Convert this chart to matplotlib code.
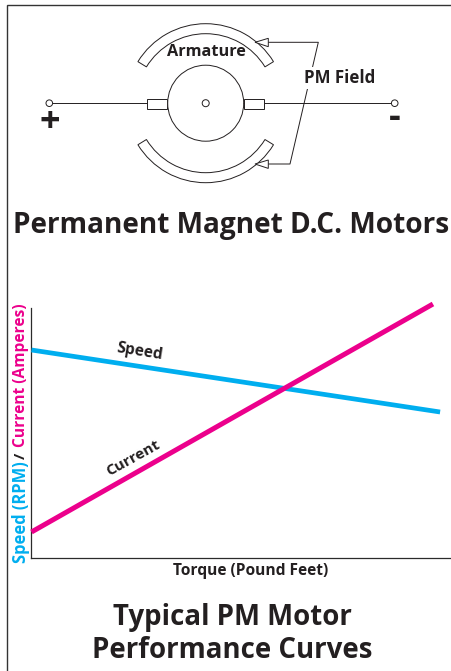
import matplotlib
matplotlib.use("Agg")
from matplotlib import pyplot as plt
from matplotlib.patches import Circle, Polygon, Rectangle, Wedge

# chart values (arbitrary units, no ticks in the original)
torque_speed = [0, 97.4]
speed = [83.2, 58.4]
torque_current = [0, 95.7]
current = [10.4, 101.6]

INK = "#231f20"
BLUE = "#00aeef"
PINK = "#ec008c"
LINE = "#2b2b2b"
W, H = 451, 671

plt.rcParams["font.family"] = ["Open Sans", "DejaVu Sans"]
plt.rcParams["font.weight"] = "bold"

fig = plt.figure(figsize=(W / 100, H / 100), dpi=100)

# plot area, in figure fractions
left, right, top, bottom = 31.5, 451, 308, 558
ax = fig.add_axes([left / W, 1 - bottom / H, (right - left) / W, (bottom - top) / H])
ax.patch.set_alpha(0)
ax.plot(torque_speed, speed, color=BLUE, lw=3.4, solid_capstyle="butt", clip_on=False, zorder=3)
ax.plot(torque_current, current, color=PINK, lw=3.6, solid_capstyle="butt", clip_on=False, zorder=4)
ax.set_xlim(0, 100)
ax.set_ylim(0, 100)
ax.set_xticks([])
ax.set_yticks([])
ax.spines["top"].set_visible(False)
ax.spines["right"].set_visible(False)
ax.spines["left"].set_color(LINE)
ax.spines["bottom"].set_color(LINE)
ax.spines["left"].set_linewidth(0.9)
ax.spines["bottom"].set_linewidth(0.9)

# overlay in image pixels for the motor sketch and all text
ov = fig.add_axes([0, 0, 1, 1], zorder=5)
ov.set_xlim(0, W)
ov.set_ylim(H, 0)
ov.axis("off")
ov.patch.set_alpha(0)

# page frame
ov.plot([451, 6.5, 6.5], [4.5, 4.5, 671], color="#333333", lw=1.0, solid_joinstyle="miter")

# motor
cx, cy = 205.7, 103.2
sk = dict(edgecolor=INK, facecolor="white", lw=0.7)
ov.plot([49.3, 394.7], [cy, cy], color=INK, lw=0.7, zorder=1)
ov.add_patch(Rectangle((147.3, 98.5), 20, 10.5, zorder=2, **sk))
ov.add_patch(Rectangle((243.5, 98.5), 20.5, 10.5, zorder=2, **sk))
ov.add_patch(Circle((cx, cy), 38, zorder=3, **sk))
ov.add_patch(Circle((cx, cy), 3.5, zorder=4, **sk))
ov.add_patch(Circle((49.3, cy), 3.3, zorder=4, **sk))
ov.add_patch(Circle((394.7, cy), 3.3, zorder=4, **sk))
ov.add_patch(Wedge((cx, cy), 79.5, 211.5, 328.5, width=10, zorder=2, **sk))
ov.add_patch(Wedge((cx, cy), 79.5, 31.5, 148.5, width=10, zorder=2, **sk))

# PM field leader lines
ov.plot([268, 318.3, 290, 268], [42.3, 42.3, 164, 164], color=INK, lw=0.7, zorder=5)
ov.add_patch(Polygon([(255, 42.3), (268.3, 38.3), (268.3, 46.7)], zorder=5, **sk))
ov.add_patch(Polygon([(255, 164), (268.3, 160), (268.3, 168.4)], zorder=5, **sk))

ov.text(206, 51.5, "Armature", fontsize=11.7, color=INK, ha="center", va="center", zorder=6)
ov.text(340, 78, "PM Field", fontsize=12.2, color=INK, ha="center", va="center", zorder=6,
        bbox=dict(facecolor="white", edgecolor="none", pad=1.5))
ov.text(50, 123, "+", fontsize=26, color=INK, ha="center", va="center", zorder=6)
ov.text(395, 118, "-", fontsize=26, color=INK, ha="center", va="center", zorder=6)

ov.text(231.5, 226, "Permanent Magnet D.C. Motors", fontsize=20.2, color=INK, ha="center", va="center")
ov.text(232, 618, "Typical PM Motor", fontsize=19.9, color=INK, ha="center", va="center")
ov.text(232, 650, "Performance Curves", fontsize=19.9, color=INK, ha="center", va="center")

# axis labels, the y label is three coloured pieces
ov.text(250.5, 571, "Torque (Pound Feet)", fontsize=11.2, color=INK, ha="center", va="center")
ov.text(21, 563, "Speed (RPM)", fontsize=11.9, color=BLUE, rotation=90, ha="center", va="bottom")
ov.text(21, 459, "/", fontsize=11, color=INK, rotation=90, ha="center", va="bottom")
ov.text(21, 447, "Current (Amperes)", fontsize=11.2, color=PINK, rotation=90, ha="center", va="bottom")

ov.text(140, 352, "Speed", fontsize=11.2, color=INK, rotation=-9, ha="center", va="center", rotation_mode="anchor")
ov.text(133, 458, "Current", fontsize=11, color=INK, rotation=29, ha="center", va="center", rotation_mode="anchor")

fig.savefig("out.png", dpi=100)
